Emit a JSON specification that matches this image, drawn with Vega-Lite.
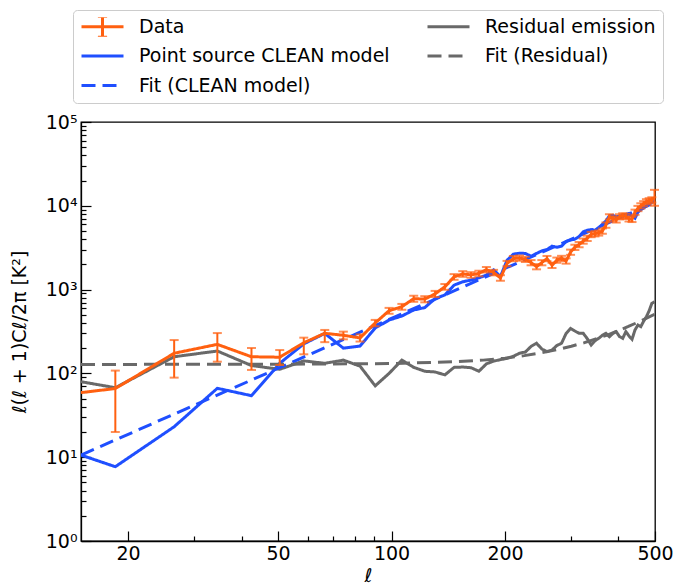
{
  "$schema": "https://vega.github.io/schema/vega-lite/v6.json",
  "width": 574,
  "height": 419,
  "autosize": {"type": "none"},
  "padding": {"left": 81, "top": 122, "right": 21, "bottom": 44},
  "background": "white",
  "config": {
    "view": {"stroke": "black", "strokeWidth": 1.3},
    "font": "DejaVu Sans",
    "axis": {
      "domainColor": "black", "domainWidth": 1.3, "tickColor": "black", "tickWidth": 1.2,
      "labelColor": "black", "titleColor": "black", "labelFont": "DejaVu Sans", "titleFont": "DejaVu Sans",
      "labelFontSize": 19, "titleFontSize": 19, "titleFontWeight": "normal", "grid": false,
      "labelFlush": false, "labelOverlap": false, "zindex": 1
    }
  },
  "datasets": {
    "main": [
      {"l": 15, "Data": 59, "Point source CLEAN model": 10.6, "Residual emission": 79.6},
      {"l": 18.5, "Data": 66, "lo": 20, "hi": 108, "Point source CLEAN model": 7.7, "Residual emission": 67.5},
      {"l": 26.5, "Data": 174, "lo": 89, "hi": 250, "Point source CLEAN model": 23.1, "Residual emission": 158},
      {"l": 34.5, "Data": 222, "lo": 138, "hi": 303, "Point source CLEAN model": 66.4, "Residual emission": 185},
      {"l": 42.5, "Data": 158, "lo": 110, "hi": 201, "Point source CLEAN model": 54.2, "Residual emission": 124},
      {"l": 50.5, "Data": 156, "lo": 126, "hi": 190, "Point source CLEAN model": 132, "Residual emission": 112},
      {"l": 58.5, "Data": 232, "lo": 169, "hi": 267, "Point source CLEAN model": 225, "Residual emission": 141},
      {"l": 66.5, "Data": 301, "lo": 236, "hi": 330, "Point source CLEAN model": 300, "Residual emission": 132},
      {"l": 74.5, "Data": 285, "lo": 255, "hi": 315, "Point source CLEAN model": 200, "Residual emission": 144},
      {"l": 82.5, "Data": 265, "lo": 240, "hi": 292, "Point source CLEAN model": 212, "Residual emission": 122},
      {"l": 90.5, "Data": 400, "lo": 365, "hi": 435, "Point source CLEAN model": 348, "Residual emission": 71},
      {"l": 98.5, "Data": 560, "lo": 515, "hi": 605, "Point source CLEAN model": 433, "Residual emission": 100},
      {"l": 106.5, "Data": 625, "lo": 575, "hi": 675, "Point source CLEAN model": 484, "Residual emission": 144},
      {"l": 114.5, "Data": 780, "lo": 715, "hi": 845, "Point source CLEAN model": 571, "Residual emission": 118},
      {"l": 122.5, "Data": 770, "lo": 705, "hi": 835, "Point source CLEAN model": 610, "Residual emission": 106},
      {"l": 130.5, "Data": 890, "lo": 815, "hi": 965, "Point source CLEAN model": 780, "Residual emission": 104},
      {"l": 138.5, "Data": 1080, "lo": 995, "hi": 1165, "Point source CLEAN model": 863, "Residual emission": 96},
      {"l": 146.5, "Data": 1420, "lo": 1310, "hi": 1530, "Point source CLEAN model": 1130, "Residual emission": 118},
      {"l": 154.5, "Data": 1540, "lo": 1420, "hi": 1660, "Point source CLEAN model": 1240, "Residual emission": 119},
      {"l": 162.5, "Data": 1500, "lo": 1385, "hi": 1615, "Point source CLEAN model": 1300, "Residual emission": 117},
      {"l": 170.5, "Data": 1560, "lo": 1440, "hi": 1680, "Point source CLEAN model": 1380, "Residual emission": 106},
      {"l": 178.5, "Data": 1730, "lo": 1600, "hi": 1860, "Point source CLEAN model": 1490, "Residual emission": 130},
      {"l": 186.5, "Data": 1600, "lo": 1480, "hi": 1720, "Point source CLEAN model": 1720, "Residual emission": 140},
      {"l": 194.5, "Data": 1380, "lo": 1275, "hi": 1485, "Point source CLEAN model": 1430, "Residual emission": 146},
      {"l": 202.5, "Data": 2050, "lo": 1900, "hi": 2200, "Point source CLEAN model": 2240, "Residual emission": 151},
      {"l": 210.5, "Data": 2350, "lo": 2180, "hi": 2520, "Point source CLEAN model": 2650, "Residual emission": 160},
      {"l": 218.5, "Data": 2380, "lo": 2210, "hi": 2550, "Point source CLEAN model": 2720, "Residual emission": 174},
      {"l": 226.5, "Data": 2300, "lo": 2135, "hi": 2465, "Point source CLEAN model": 2700, "Residual emission": 180},
      {"l": 234.5, "Data": 2100, "lo": 1950, "hi": 2250, "Point source CLEAN model": 2500, "Residual emission": 210},
      {"l": 242.5, "Data": 1880, "lo": 1745, "hi": 2015, "Point source CLEAN model": 2700, "Residual emission": 229},
      {"l": 250.5, "Data": 2100, "lo": 1950, "hi": 2250, "Point source CLEAN model": 2900, "Residual emission": 195},
      {"l": 258.5, "Data": 2350, "lo": 2180, "hi": 2520, "Point source CLEAN model": 3000, "Residual emission": 182},
      {"l": 266.5, "Data": 1950, "lo": 1810, "hi": 2090, "Point source CLEAN model": 3300, "Residual emission": 190},
      {"l": 274.5, "Data": 2250, "lo": 2090, "hi": 2410, "Point source CLEAN model": 3200, "Residual emission": 215},
      {"l": 282.5, "Data": 2360, "lo": 2190, "hi": 2530, "Point source CLEAN model": 3300, "Residual emission": 229},
      {"l": 290.5, "Data": 2200, "lo": 2040, "hi": 2360, "Point source CLEAN model": 3750, "Residual emission": 300},
      {"l": 298.5, "Data": 2800, "lo": 2600, "hi": 3000, "Point source CLEAN model": 3900, "Residual emission": 345},
      {"l": 306.5, "Data": 3200, "lo": 2970, "hi": 3430, "Point source CLEAN model": 4000, "Residual emission": 320},
      {"l": 314.5, "Data": 3450, "lo": 3200, "hi": 3700, "Point source CLEAN model": 4300, "Residual emission": 301},
      {"l": 322.5, "Data": 3800, "lo": 3530, "hi": 4070, "Point source CLEAN model": 4900, "Residual emission": 301},
      {"l": 330.5, "Data": 4100, "lo": 3800, "hi": 4400, "Point source CLEAN model": 5100, "Residual emission": 260},
      {"l": 338.5, "Data": 4550, "lo": 4220, "hi": 4880, "Point source CLEAN model": 5200, "Residual emission": 218},
      {"l": 346.5, "Data": 4650, "lo": 4310, "hi": 4990, "Point source CLEAN model": 5100, "Residual emission": 245},
      {"l": 354.5, "Data": 4750, "lo": 4410, "hi": 5090, "Point source CLEAN model": 5500, "Residual emission": 262},
      {"l": 362.5, "Data": 5000, "lo": 4640, "hi": 5360, "Point source CLEAN model": 6000, "Residual emission": 285},
      {"l": 370.5, "Data": 5900, "lo": 5470, "hi": 6330, "Point source CLEAN model": 6600, "Residual emission": 301},
      {"l": 378.5, "Data": 7400, "lo": 6870, "hi": 7930, "Point source CLEAN model": 7600, "Residual emission": 274},
      {"l": 386.5, "Data": 7000, "lo": 6500, "hi": 7500, "Point source CLEAN model": 7700, "Residual emission": 300},
      {"l": 394.5, "Data": 6800, "lo": 6310, "hi": 7290, "Point source CLEAN model": 7400, "Residual emission": 315},
      {"l": 402.5, "Data": 7400, "lo": 6870, "hi": 7930, "Point source CLEAN model": 7500, "Residual emission": 275},
      {"l": 410.5, "Data": 7600, "lo": 7050, "hi": 8150, "Point source CLEAN model": 7700, "Residual emission": 262},
      {"l": 418.5, "Data": 7500, "lo": 6960, "hi": 8040, "Point source CLEAN model": 7900, "Residual emission": 315},
      {"l": 426.5, "Data": 7000, "lo": 6500, "hi": 7500, "Point source CLEAN model": 8100, "Residual emission": 280},
      {"l": 434.5, "Data": 6900, "lo": 6400, "hi": 7400, "Point source CLEAN model": 7500, "Residual emission": 255},
      {"l": 442.5, "Data": 8400, "lo": 7800, "hi": 9000, "Point source CLEAN model": 7100, "Residual emission": 330},
      {"l": 450.5, "Data": 9300, "lo": 8630, "hi": 9970, "Point source CLEAN model": 8400, "Residual emission": 378},
      {"l": 458.5, "Data": 10000, "lo": 9280, "hi": 10720, "Point source CLEAN model": 9000, "Residual emission": 361},
      {"l": 466.5, "Data": 10600, "lo": 9840, "hi": 11360, "Point source CLEAN model": 9400, "Residual emission": 420},
      {"l": 474.5, "Data": 11200, "lo": 10400, "hi": 12000, "Point source CLEAN model": 10000, "Residual emission": 475},
      {"l": 482.5, "Data": 11500, "lo": 10670, "hi": 12330, "Point source CLEAN model": 10500, "Residual emission": 560},
      {"l": 490.5, "Data": 11800, "lo": 10950, "hi": 12650, "Point source CLEAN model": 11000, "Residual emission": 686},
      {"l": 498.5, "Data": 12400, "lo": 10000, "hi": 15500, "Point source CLEAN model": 11300, "Residual emission": 717}
    ],
    "fits": [
      {"series": "Fit (CLEAN model)", "l": 15, "v": 10.6},
      {"series": "Fit (CLEAN model)", "l": 500, "v": 10980},
      {"series": "Fit (Residual)", "l": 15, "v": 128},
      {"series": "Fit (Residual)", "l": 50, "v": 128.5},
      {"series": "Fit (Residual)", "l": 100, "v": 131},
      {"series": "Fit (Residual)", "l": 150, "v": 138},
      {"series": "Fit (Residual)", "l": 175, "v": 144},
      {"series": "Fit (Residual)", "l": 200, "v": 152},
      {"series": "Fit (Residual)", "l": 225, "v": 163},
      {"series": "Fit (Residual)", "l": 250, "v": 176},
      {"series": "Fit (Residual)", "l": 275, "v": 192},
      {"series": "Fit (Residual)", "l": 300, "v": 211},
      {"series": "Fit (Residual)", "l": 325, "v": 233},
      {"series": "Fit (Residual)", "l": 350, "v": 259},
      {"series": "Fit (Residual)", "l": 375, "v": 289},
      {"series": "Fit (Residual)", "l": 400, "v": 324},
      {"series": "Fit (Residual)", "l": 425, "v": 363},
      {"series": "Fit (Residual)", "l": 450, "v": 407},
      {"series": "Fit (Residual)", "l": 475, "v": 456},
      {"series": "Fit (Residual)", "l": 500, "v": 511}
    ]
  },
  "encoding": {
    "x": {
      "field": "l", "type": "quantitative",
      "scale": {"type": "log", "domain": [15, 500], "nice": false},
      "axis": {
        "title": "ℓ", "titleFontStyle": "italic", "titlePadding": -2,
        "values": [20, 30, 40, 50, 60, 70, 80, 90, 100, 200, 300, 400, 500],
        "format": "d",
        "labelExpr": "(datum.value == 20 || datum.value == 50 || datum.value == 100 || datum.value == 200 || datum.value == 500) ? datum.label : ''",
        "tickSize": {"condition": {"test": "datum.value == 20 || datum.value == 50 || datum.value == 100 || datum.value == 200 || datum.value == 500", "value": -10}, "value": -5},
        "labelPadding": 13
      }
    },
    "y": {
      "field": "v", "type": "quantitative",
      "scale": {"type": "log", "domain": [1, 100000], "nice": false},
      "axis": {
        "title": "ℓ(ℓ + 1)Cℓ/2π [K²]", "titlePadding": 16,
        "values": [1, 2, 3, 4, 5, 6, 7, 8, 9, 10, 20, 30, 40, 50, 60, 70, 80, 90, 100, 200, 300, 400, 500, 600, 700, 800, 900, 1000, 2000, 3000, 4000, 5000, 6000, 7000, 8000, 9000, 10000, 20000, 30000, 40000, 50000, 60000, 70000, 80000, 90000, 100000],
        "labelExpr": "datum.value == 1 ? '10⁰' : datum.value == 10 ? '10¹' : datum.value == 100 ? '10²' : datum.value == 1000 ? '10³' : datum.value == 10000 ? '10⁴' : datum.value == 100000 ? '10⁵' : ''",
        "tickSize": {"condition": {"test": "datum.value == 1 || datum.value == 10 || datum.value == 100 || datum.value == 1000 || datum.value == 10000 || datum.value == 100000", "value": -10}, "value": -5},
        "labelPadding": 14
      }
    }
  },
  "layer": [
    {
      "data": {"name": "main"},
      "transform": [
        {"fold": ["Point source CLEAN model", "Residual emission"], "as": ["series", "v"]}
      ],
      "mark": {"type": "line", "strokeWidth": 3, "clip": true},
      "encoding": {
        "color": {
          "field": "series", "type": "nominal",
          "scale": {"domain": ["Data", "Point source CLEAN model", "Fit (CLEAN model)", "Residual emission", "Fit (Residual)"], "range": ["#ff6010", "#1f4fff", "#1f4fff", "#696969", "#696969"]},
          "legend": {
            "title": null, "orient": "none", "legendX": -8, "legendY": -112, "columns": 2,
            "symbolType": "stroke", "symbolSize": 1764, "symbolStrokeWidth": 3, "clipHeight": 19,
            "labelFontSize": 19, "labelFont": "DejaVu Sans", "labelColor": "black", "labelOffset": 14, "labelLimit": 400,
            "rowPadding": 9.5, "columnPadding": 36, "padding": 7,
            "strokeColor": "#cccccc", "fillColor": "white", "cornerRadius": 4,
            "encode": {"symbols": {"update": {"shape": {"signal": "datum.value === 'Data' ? 'M-1,0H1M0,-0.5V0.5M-0.22,-0.5H0.22M-0.22,0.5H0.22' : 'stroke'"}}}}
          }
        },
        "strokeDash": {
          "field": "series", "type": "nominal",
          "scale": {"domain": ["Data", "Point source CLEAN model", "Fit (CLEAN model)", "Residual emission", "Fit (Residual)"], "range": [[1, 0], [1, 0], [14, 7], [1, 0], [14, 7]]},
          "legend": {
            "title": null, "orient": "none", "legendX": -8, "legendY": -112, "columns": 2,
            "symbolType": "stroke", "symbolSize": 1764, "symbolStrokeWidth": 3, "clipHeight": 19,
            "labelFontSize": 19, "labelFont": "DejaVu Sans", "labelColor": "black", "labelOffset": 14, "labelLimit": 400,
            "rowPadding": 9.5, "columnPadding": 36, "padding": 7,
            "strokeColor": "#cccccc", "fillColor": "white", "cornerRadius": 4,
            "encode": {"symbols": {"update": {"shape": {"signal": "datum.value === 'Data' ? 'M-1,0H1M0,-0.5V0.5M-0.22,-0.5H0.22M-0.22,0.5H0.22' : 'stroke'"}}}}
          }
        }
      }
    },
    {
      "data": {"name": "fits"},
      "mark": {"type": "line", "strokeWidth": 3, "clip": true},
      "encoding": {
        "color": {"field": "series", "type": "nominal", "scale": {"domain": ["Data", "Point source CLEAN model", "Fit (CLEAN model)", "Residual emission", "Fit (Residual)"], "range": ["#ff6010", "#1f4fff", "#1f4fff", "#696969", "#696969"]}},
        "strokeDash": {"field": "series", "type": "nominal", "scale": {"domain": ["Data", "Point source CLEAN model", "Fit (CLEAN model)", "Residual emission", "Fit (Residual)"], "range": [[1, 0], [1, 0], [14, 7], [1, 0], [14, 7]]}}
      }
    },
    {
      "data": {"name": "main"},
      "transform": [
        {"fold": ["Data"], "as": ["series", "v"]}
      ],
      "mark": {"type": "line", "strokeWidth": 3, "clip": true},
      "encoding": {
        "color": {"field": "series", "type": "nominal", "scale": {"domain": ["Data", "Point source CLEAN model", "Fit (CLEAN model)", "Residual emission", "Fit (Residual)"], "range": ["#ff6010", "#1f4fff", "#1f4fff", "#696969", "#696969"]}},
        "strokeDash": {"field": "series", "type": "nominal", "scale": {"domain": ["Data", "Point source CLEAN model", "Fit (CLEAN model)", "Residual emission", "Fit (Residual)"], "range": [[1, 0], [1, 0], [14, 7], [1, 0], [14, 7]]}}
      }
    },
    {
      "data": {"name": "main"},
      "transform": [{"filter": {"field": "lo", "valid": true}}],
      "mark": {"type": "errorbar", "color": "#ff6010", "thickness": 2, "ticks": {"size": 9, "thickness": 2, "color": "#ff6010"}},
      "encoding": {
        "y": {
          "field": "lo", "type": "quantitative",
          "scale": {"type": "log", "domain": [1, 100000], "nice": false},
          "axis": {
            "title": "ℓ(ℓ + 1)Cℓ/2π [K²]", "titlePadding": 16,
            "values": [1, 2, 3, 4, 5, 6, 7, 8, 9, 10, 20, 30, 40, 50, 60, 70, 80, 90, 100, 200, 300, 400, 500, 600, 700, 800, 900, 1000, 2000, 3000, 4000, 5000, 6000, 7000, 8000, 9000, 10000, 20000, 30000, 40000, 50000, 60000, 70000, 80000, 90000, 100000],
            "labelExpr": "datum.value == 1 ? '10⁰' : datum.value == 10 ? '10¹' : datum.value == 100 ? '10²' : datum.value == 1000 ? '10³' : datum.value == 10000 ? '10⁴' : datum.value == 100000 ? '10⁵' : ''",
            "tickSize": {"condition": {"test": "datum.value == 1 || datum.value == 10 || datum.value == 100 || datum.value == 1000 || datum.value == 10000 || datum.value == 100000", "value": -10}, "value": -5},
            "labelPadding": 14
          }
        },
        "y2": {"field": "hi"}
      }
    }
  ]
}
